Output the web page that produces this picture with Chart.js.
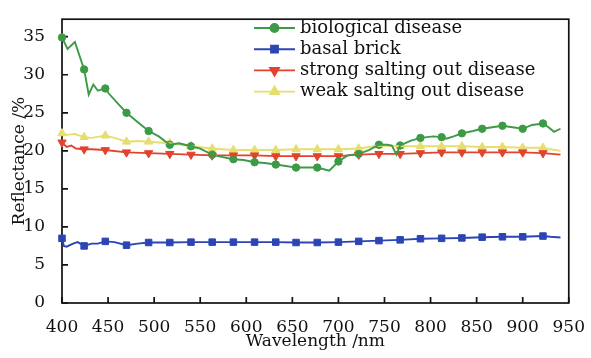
<!DOCTYPE html>
<html>
<head>
<meta charset="utf-8">
<script src="https://cdn.jsdelivr.net/npm/chart.js@4/dist/chart.umd.min.js"></script>
<style>
  body { margin: 0; background: #fff; }
  canvas { display: block; }
</style>
</head>
<body>
<canvas id="spectra" width="591" height="358"></canvas>
<script>
// wavelengths (nm) where the curves carry a marker
const markerWl = [400, 424, 447, 470, 494, 517, 540, 563, 586, 609, 632, 654,
                  677, 700, 722, 744, 767, 789, 812, 834, 856, 878, 900, 922];

// biological disease
const bioMarks = [34.9, 30.7, 28.2, 25.0, 22.6, 20.8, 20.6, 19.5, 18.9, 18.5, 18.2, 17.8,
                  17.8, 18.6, 19.6, 20.8, 20.7, 21.7, 21.8, 22.3, 22.9, 23.3, 22.9, 23.6];
const bioExtraWl = [406, 414, 429, 434, 439, 451, 460, 482, 505, 527, 550, 573, 597, 620, 643, 665,
                    690, 710, 733, 753, 758, 763, 778, 803, 817, 825, 846, 867, 889, 910, 928, 934, 941];
const bioExtra = [33.4, 34.3, 27.4, 28.7, 27.9, 27.5, 26.3, 23.8, 21.9, 21.0, 20.3, 19.2, 18.8, 18.4, 18.0, 17.8,
                  17.4, 19.4, 20.1, 20.8, 20.7, 19.5, 21.3, 21.9, 21.6, 21.9, 22.6, 23.1, 23.1, 23.4, 23.1, 22.5, 22.9];

// basal brick
const brickMarks = [8.5, 7.5, 8.1, 7.6, 7.95, 7.95, 8.0, 8.0, 8.0, 8.0, 8.0, 7.95,
                    7.95, 8.0, 8.1, 8.2, 8.3, 8.45, 8.5, 8.55, 8.65, 8.7, 8.7, 8.8];
const brickExtraWl = [402, 405, 412, 417, 432, 439, 457, 482, 930, 941];
const brickExtra = [7.5, 7.4, 7.8, 8.0, 7.8, 7.8, 8.0, 7.8, 8.7, 8.6];

// strong salting out disease
const strongMarks = [21.1, 20.2, 20.1, 19.8, 19.7, 19.6, 19.5, 19.4, 19.4, 19.4, 19.3, 19.3,
                     19.3, 19.3, 19.5, 19.6, 19.6, 19.7, 19.8, 19.8, 19.8, 19.8, 19.8, 19.7];
const strongExtraWl = [405, 410, 415, 432, 941];
const strongExtra = [20.5, 20.7, 20.3, 20.2, 19.5];

// weak salting out disease
const weakMarks = [22.3, 21.8, 22.0, 21.2, 21.2, 21.0, 20.6, 20.3, 20.1, 20.1, 20.1, 20.2,
                   20.2, 20.2, 20.3, 20.7, 20.6, 20.6, 20.6, 20.6, 20.5, 20.5, 20.4, 20.4];
const weakExtraWl = [406, 414, 432, 457, 482, 930, 941];
const weakExtra = [22.1, 22.2, 21.7, 21.7, 21.3, 20.2, 20.0];

const xTicks = [400, 450, 500, 550, 600, 650, 700, 750, 800, 850, 900, 950];
const yTicks = [0, 5, 10, 15, 20, 25, 30, 35];

const serif = "'DejaVu Serif', 'Liberation Serif', serif";
const ink = '#111';

const series = [
  { label: 'biological disease', color: '#3d9a47', marks: bioMarks, exWl: bioExtraWl, ex: bioExtra, style: 'circle', r: 3.7, rot: 0 },
  { label: 'basal brick', color: '#2c45b5', marks: brickMarks, exWl: brickExtraWl, ex: brickExtra, style: 'rect', r: 4.6, rot: 0 },
  { label: 'strong salting out disease', color: '#e2432e', marks: strongMarks, exWl: strongExtraWl, ex: strongExtra, style: 'triangle', r: 4.8, rot: 180 },
  { label: 'weak salting out disease', color: '#e6de6e', marks: weakMarks, exWl: weakExtraWl, ex: weakExtra, style: 'triangle', r: 4.8, rot: 0 }
];

const toPoints = (wl, vals) => wl.map((w, i) => ({ x: w, y: vals[i] }));

const lineData = (s) => toPoints(markerWl, s.marks)
  .concat(toPoints(s.exWl, s.ex))
  .sort((a, b) => a.x - b.x);

const datasets = [];
series.forEach((s) => {
  datasets.push({
    label: s.label,
    data: lineData(s),
    borderColor: s.color,
    borderWidth: 1.9,
    pointRadius: 0,
    tension: 0
  });
});
series.forEach((s) => {
  datasets.push({
    label: s.label + ' markers',
    data: toPoints(markerWl, s.marks),
    showLine: false,
    pointStyle: s.style,
    pointRadius: s.r,
    pointRotation: s.rot,
    pointBackgroundColor: s.color,
    pointBorderColor: s.color,
    pointBorderWidth: 1,
    clip: false
  });
});

const drawMarker = (ctx, s, x, y) => {
  Chart.helpers.drawPoint(ctx, { pointStyle: s.style, radius: s.r + 0.3, rotation: s.rot, borderWidth: 1 }, x, y);
};

const framePlugin = {
  id: 'frame',
  beforeDatasetsDraw(chart) {
    const { ctx, chartArea: a, scales } = chart;
    ctx.save();
    ctx.strokeStyle = ink;
    ctx.lineWidth = 1.7;
    ctx.strokeRect(a.left, a.top, a.right - a.left, a.bottom - a.top);
    ctx.beginPath();
    scales.x.ticks.forEach((t) => {
      const px = scales.x.getPixelForValue(t.value);
      ctx.moveTo(px, a.bottom);
      ctx.lineTo(px, a.bottom - 6);
    });
    scales.y.ticks.forEach((t) => {
      const py = scales.y.getPixelForValue(t.value);
      ctx.moveTo(a.left, py);
      ctx.lineTo(a.left + 6, py);
    });
    ctx.stroke();
    ctx.restore();
  },
  afterDraw(chart) {
    const ctx = chart.ctx;
    ctx.save();
    ctx.font = '18px ' + serif;
    ctx.textBaseline = 'middle';
    series.forEach((s, i) => {
      const y = 28 + i * 21.2;
      ctx.strokeStyle = s.color;
      ctx.fillStyle = s.color;
      ctx.lineWidth = 1.9;
      ctx.beginPath();
      ctx.moveTo(254, y);
      ctx.lineTo(295, y);
      ctx.stroke();
      drawMarker(ctx, s, 274.5, y);
      ctx.fillStyle = ink;
      ctx.fillText(s.label, 300, y);
    });
    ctx.restore();
  }
};

new Chart(document.getElementById('spectra'), {
  type: 'line',
  data: { datasets: datasets },
  plugins: [framePlugin],
  options: {
    responsive: false,
    devicePixelRatio: 1,
    animation: false,
    layout: { padding: { top: 3, right: 17, left: 0, bottom: 0 } },
    plugins: { legend: { display: false }, tooltip: { enabled: false } },
    scales: {
      x: {
        type: 'linear',
        min: 400,
        max: 950,
        afterFit: (scale) => { scale.height = 55; },
        afterBuildTicks: (scale) => { scale.ticks = xTicks.map((v) => ({ value: v })); },
        grid: { display: false },
        border: { display: false },
        ticks: { padding: 6, color: ink, font: { family: serif, size: 17 } },
        title: { display: true, text: 'Wavelength /nm', color: ink, padding: { top: 0, bottom: 6 }, font: { family: serif, size: 17 } }
      },
      y: {
        min: 0,
        max: 37.3,
        afterFit: (scale) => { scale.width = 62; },
        afterBuildTicks: (scale) => { scale.ticks = yTicks.map((v) => ({ value: v })); },
        grid: { display: false },
        border: { display: false },
        ticks: { padding: 9, color: ink, font: { family: serif, size: 17 } },
        title: { display: true, text: 'Reflectance /%', color: ink, padding: { top: 9, bottom: 0 }, font: { family: serif, size: 17 } }
      }
    }
  }
});
</script>
</body>
</html>
